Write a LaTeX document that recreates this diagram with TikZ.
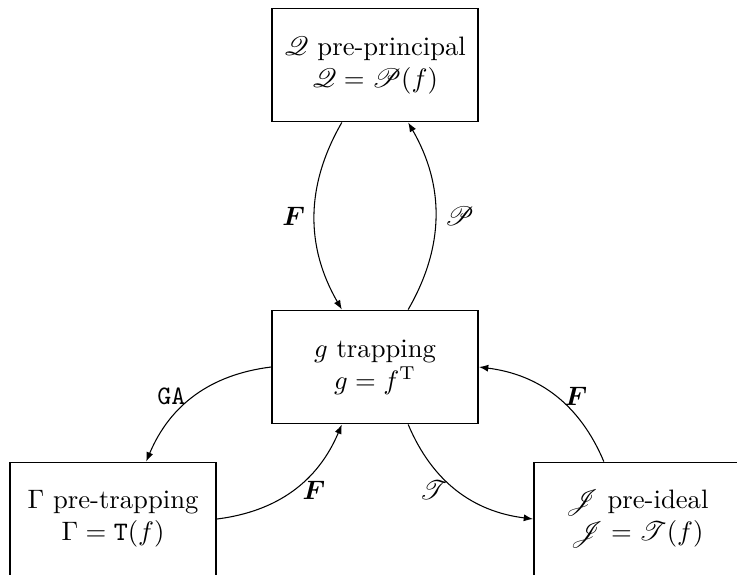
\documentclass[tikz,border=0pt]{standalone}
\usepackage{amsmath, amssymb}
\usepackage{mathrsfs}
\usetikzlibrary{arrows.meta}

\begin{document}
\begin{tikzpicture}[
    x=0.375pt, y=0.375pt,
    box/.style={draw, rectangle, line width=0.7pt, minimum width=77.25pt, minimum height=42.4pt, inner sep=0pt, align=center},
    arrow/.style={-{Latex[length=3.5pt]}, thin}
]
\useasboundingbox (0,0) rectangle (737,574);
\clip (0,0) rectangle (737,574);
\node[box] (principal) at (375,509) {
$\mathscr{Q}$ pre-principal\\
$\mathscr{Q} = \mathscr{P}(f)$
};
\node[box] (trapping) at (375,207) {
$g$ trapping\\
$g = f^{\mathrm{T}}$
};
\node[box] (pretrap) at (113,55) {
$\Gamma$ pre-trapping\\
$\Gamma = \mathtt{T}(f)$
};
\node[box] (ideal) at (637,55) {
$\mathscr{J}$ pre-ideal\\
$\mathscr{J} = \mathscr{T}(f)$
};
\draw[arrow] (principal.240) to[bend right=30] node[left]{$\boldsymbol{F}$} (trapping.120);
\draw[arrow] (trapping.60) to[bend right=30] node[right]{$\mathscr{P}$} (principal.300);
\draw[arrow] (trapping.west) to[bend right=30] node[left]{\texttt{GA}} (pretrap.60);
\draw[arrow] (pretrap.east) to[bend right=30] node[right]{$\boldsymbol{F}$} (trapping.240);
\draw[arrow] (trapping.300) to[bend right=30] node[left]{$\mathscr{T}$} (ideal.west);
\draw[arrow] (ideal.120) to[bend right=30] node[right]{$\boldsymbol{F}$} (trapping.east);
\end{tikzpicture}
\end{document}
